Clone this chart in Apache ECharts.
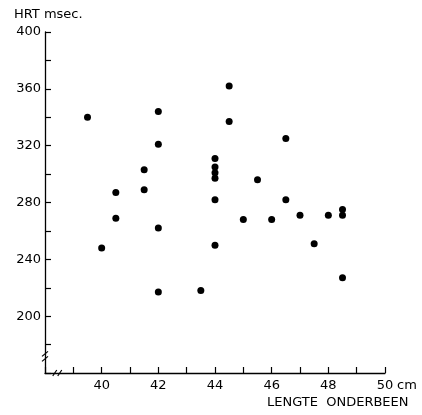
<!DOCTYPE html>
<html>
<head>
<meta charset="utf-8">
<script src="https://cdn.jsdelivr.net/npm/echarts@6/dist/echarts.min.js"></script>
<style>html,body{margin:0;padding:0;background:#fff;}#c{width:422px;height:415px;}</style>
</head>
<body>
<div id="c"></div>
<script>
// Data
const legLength = [39.5, 40, 40.5, 40.5, 41.5, 41.5, 42, 42, 42, 42, 43.5, 44, 44, 44, 44, 44, 44, 44.5, 44.5, 45, 45.5, 46, 46.5, 46.5, 47, 47.5, 48, 48.5, 48.5, 48.5];
const hrt       = [340, 248, 287, 269, 303, 289, 344, 321, 262, 217, 218, 311, 305, 301, 297, 282, 250, 362, 337, 268, 296, 268, 325, 282, 271, 251, 271, 275, 271, 227];
const xTickLabels = ['40', '42', '44', '46', '48', '50'];
const yTickLabels = ['200', '240', '280', '320', '360', '400'];

const FONT = 'DejaVu Sans';
const points = legLength.map((x, i) => [x, hrt[i]]);

const chart = echarts.init(document.getElementById('c'));
chart.setOption({
  animation: false,
  backgroundColor: '#fff',
  title: [
    { text: 'HRT msec.', left: 9, top: 3, textStyle: { fontFamily: FONT, fontSize: 13, fontWeight: 'normal', color: '#000' } },
    { text: 'LENGTE  ONDERBEEN', left: 262, top: 391, textStyle: { fontFamily: FONT, fontSize: 13, fontWeight: 'normal', color: '#000' } }
  ],
  grid: { left: 45, right: 37, top: 32, bottom: 42, containLabel: false },
  xAxis: {
    type: 'value', min: 38, max: 50, interval: 2,
    splitLine: { show: false },
    axisLine: { show: true, lineStyle: { color: '#000', width: 1.3 } },
    axisTick: { show: true, inside: true, length: 6, lineStyle: { color: '#000', width: 1.2 } },
    minorTick: { show: true, splitNumber: 2, length: 6, lineStyle: { color: '#000', width: 1.2 } },
    axisLabel: {
      margin: 6, color: '#000', fontFamily: FONT, fontSize: 13,
      formatter: v => xTickLabels.includes(String(v)) ? String(v) : ''
    }
  },
  yAxis: {
    type: 'value', min: 160, max: 400, interval: 40,
    splitLine: { show: false },
    axisLine: { show: true, lineStyle: { color: '#000', width: 1.3 } },
    axisTick: { show: true, inside: true, length: 6, lineStyle: { color: '#000', width: 1.2 } },
    minorTick: { show: true, splitNumber: 2, length: 6, lineStyle: { color: '#000', width: 1.2 } },
    axisLabel: {
      margin: 4, color: '#000', fontFamily: FONT, fontSize: 13,
      formatter: v => yTickLabels.includes(String(v)) ? String(v) : ''
    }
  },
  series: [{
    type: 'scatter',
    data: points,
    symbol: 'circle',
    symbolSize: 7,
    itemStyle: { color: '#000', opacity: 1 },
    silent: true
  }]
});

// Decorations: axis breaks and "cm" unit, placed via the axis scales
const p50 = chart.convertToPixel({ gridIndex: 0 }, [50, 160]);
const yb = chart.convertToPixel({ gridIndex: 0 }, [38, 171]);
const xb = chart.convertToPixel({ gridIndex: 0 }, [38.45, 160]);
chart.setOption({
  graphic: [
    { type: 'text', left: p50[0] + 12, top: p50[1] + 6, style: { text: 'cm', font: '13px ' + FONT, fill: '#000' } },
    // y axis break
    { type: 'rect', shape: { x: yb[0] - 3, y: yb[1] - 4, width: 6, height: 8 }, style: { fill: '#fff' } },
    { type: 'line', shape: { x1: yb[0] - 3, y1: yb[1] - 1, x2: yb[0] + 3, y2: yb[1] - 6 }, style: { stroke: '#000', lineWidth: 1.2 } },
    { type: 'line', shape: { x1: yb[0] - 3, y1: yb[1] + 4, x2: yb[0] + 3, y2: yb[1] - 1 }, style: { stroke: '#000', lineWidth: 1.2 } },
    // x axis break
    { type: 'rect', shape: { x: xb[0] - 4, y: xb[1] - 3, width: 8, height: 6 }, style: { fill: '#fff' } },
    { type: 'line', shape: { x1: xb[0] - 5, y1: xb[1] + 3, x2: xb[0] - 1, y2: xb[1] - 3 }, style: { stroke: '#000', lineWidth: 1.2 } },
    { type: 'line', shape: { x1: xb[0] + 0, y1: xb[1] + 3, x2: xb[0] + 4, y2: xb[1] - 3 }, style: { stroke: '#000', lineWidth: 1.2 } }
  ]
});
</script>
</body>
</html>
